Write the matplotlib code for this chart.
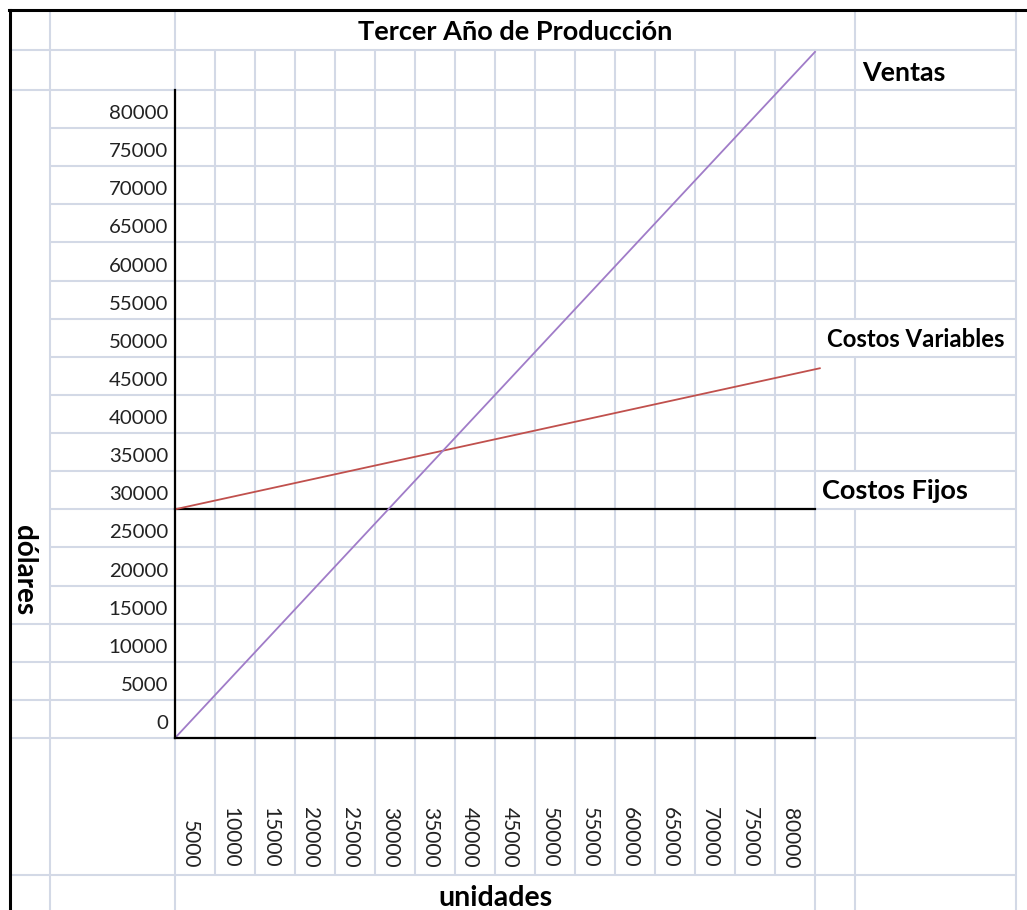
import matplotlib
matplotlib.use("Agg")
import matplotlib.pyplot as plt
from matplotlib import transforms

plt.rcParams['font.family'] = ['Lato', 'DejaVu Sans']

# datos (unidades -> dólares)
unidades = [0, 80000]
ventas = [0, 90000]
costos_fijos = [30000, 30000]
unidades_cv = [0, 80600]
costos_variables = [30000, 48500]

y_ticks = list(range(0, 80001, 5000))
x_ticks = list(range(5000, 80001, 5000))

titulo = "Tercer Año de Producción"
grid_color = "#d3d9e6"

W, H = 1027, 910
fig = plt.figure(figsize=(W / 100, H / 100), dpi=100)

# hoja de cálculo de fondo, en pixeles
bg = fig.add_axes([0, 0, 1, 1])
bg.set_xlim(0, W)
bg.set_ylim(H, 0)
bg.axis('off')

row_h = (738 - 90) / 17
rows = [90 + k * row_h for k in range(18)]
gkw = dict(color=grid_color, lw=1.5, zorder=0)

bg.hlines([50, 90], 12, 1016, **gkw)
for y in rows[1:]:
    bg.hlines(y, 12 if y > 600 else 50, 1016, **gkw)
bg.hlines(875, 12, 1016, **gkw)

bg.vlines([50, 175, 1016], 12, H, **gkw)
bg.vlines(list(range(215, 776, 40)), 50, 875, **gkw)
bg.vlines(815, 50, H, **gkw)
bg.vlines(855, 12, rows[6], **gkw)
bg.vlines(855, rows[7], rows[10], **gkw)
bg.vlines(855, rows[11], H, **gkw)

bg.plot([9.5, 9.5], [9.5, H], color='black', lw=2.2)
bg.plot([8.5, W], [9.5, 9.5], color='black', lw=2.2)

# gráfico
ax = fig.add_axes([175 / W, (H - 738) / H, 640 / W, (738 - 90) / H])
ax.set_xlim(0, 80000)
ax.set_ylim(0, 85000)
ax.patch.set_alpha(0)
for s in ['top', 'right']:
    ax.spines[s].set_visible(False)
for s in ['left', 'bottom']:
    ax.spines[s].set_color('black')
    ax.spines[s].set_linewidth(1.6)
ax.set_xticks([])
ax.set_yticks([])

ax.plot(unidades, costos_fijos, color='black', lw=1.6, clip_on=False)
ax.plot(unidades_cv, costos_variables, color='#c0504d', lw=1.3, clip_on=False)
ax.plot(unidades, ventas, color='#a07cc8', lw=1.3, clip_on=False)

ytrans = transforms.offset_copy(
    transforms.blended_transform_factory(bg.transData, ax.transData),
    fig=fig, x=0, y=9, units='dots')
for v in y_ticks:
    ax.text(168, v, str(v), transform=ytrans, ha='right', va='baseline',
            fontsize=14.7, color='#222222')

xtrans = transforms.offset_copy(
    transforms.blended_transform_factory(ax.transData, bg.transData),
    fig=fig, x=15, y=0, units='dots')
for v in x_ticks:
    ax.text(v - 5000, 868, str(v), transform=xtrans, rotation=270,
            ha='center', va='bottom', fontsize=15, color='#222222')

bg.text(515, 40.5, titulo, ha='center', va='baseline', fontsize=19.5, fontweight='bold')
bg.text(862, 81, 'Ventas', ha='left', va='baseline', fontsize=19.3, fontweight='bold')
bg.text(827, 347, 'Costos Variables', ha='left', va='baseline', fontsize=17.2, fontweight='bold')
bg.text(822, 499, 'Costos Fijos', ha='left', va='baseline', fontsize=19.5, fontweight='bold')
bg.text(24, 570, 'dólares', rotation=270, ha='center', va='center', fontsize=20, fontweight='bold')
bg.text(495, 906, 'unidades', ha='center', va='baseline', fontsize=20.5, fontweight='bold')

fig.savefig('out.png', dpi=100)
